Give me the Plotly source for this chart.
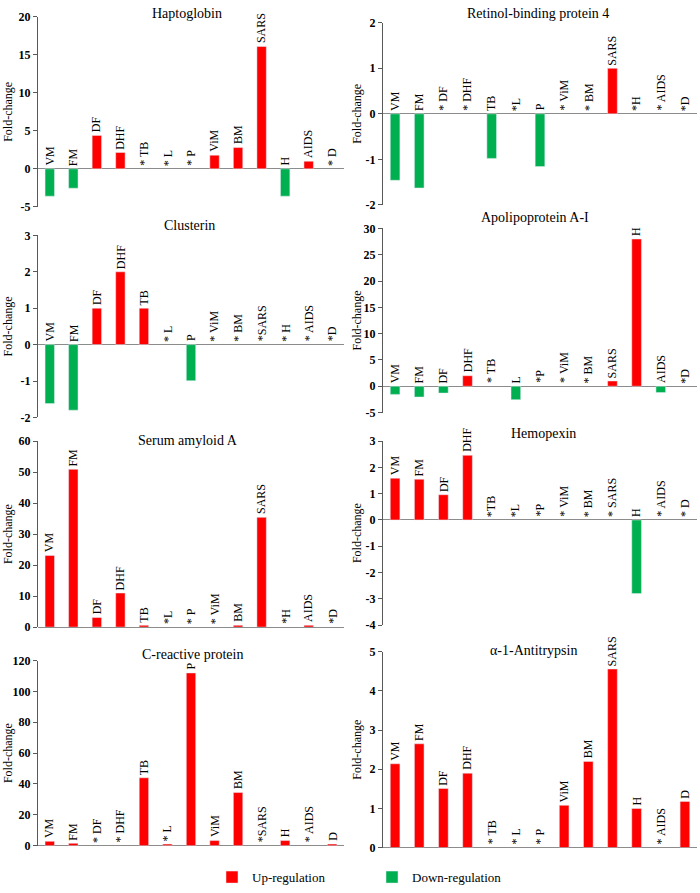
import plotly.graph_objects as go

categories = ["VM", "FM", "DF", "DHF", "TB", "L", "P", "ViM", "BM", "SARS", "H", "AIDS", "D"]

haptoglobin = [-3.6, -2.55, 4.4, 2.15, None, None, None, 1.8, 2.8, 16.1, -3.6, 1.0, None]
haptoglobin_labels = ["VM", "FM", "DF", "DHF", "* TB", "* L", "* P", "ViM", "BM", "SARS", "H", "AIDS", "* D"]

rbp4 = [-1.46, -1.63, None, None, -0.98, None, -1.16, None, None, 1.0, None, None, None]
rbp4_labels = ["VM", "FM", "* DF", "* DHF", "TB", "*L", "P", "* ViM", "* BM", "SARS", "*H", "* AIDS", "*D"]

clusterin = [-1.62, -1.8, 1.0, 2.0, 1.0, None, -0.99, None, None, None, None, None, None]
clusterin_labels = ["VM", "FM", "DF", "DHF", "TB", "* L", "P", "* ViM", "* BM", "*SARS", "* H", "* AIDS", "*D"]

apoa1 = [-1.55, -2.05, -1.3, 2.0, None, -2.55, None, None, None, 1.0, 28.0, -1.2, None]
apoa1_labels = ["VM", "FM", "DF", "DHF", "* TB", "L", "*P", "* ViM", "* BM", "SARS", "H", "AIDS", "*D"]

saa = [23.1, 50.9, 3.1, 11.0, 0.6, None, None, None, 0.6, 35.4, None, 0.6, None]
saa_labels = ["VM", "FM", "DF", "DHF", "TB", "*L", "* P", "* ViM", "BM", "SARS", "*H", "AIDS", "*D"]

hemopexin = [1.59, 1.55, 0.96, 2.46, None, None, None, None, None, None, -2.8, None, None]
hemopexin_labels = ["VM", "FM", "DF", "DHF", "*TB", "*L", "*P", "* ViM", "* BM", "* SARS", "H", "* AIDS", "* D"]

crp = [2.8, 1.5, None, None, 44.0, 1.0, 112.0, 3.3, 34.5, None, 3.3, None, 1.0]
crp_labels = ["VM", "FM", "* DF", "* DHF", "TB", "* L", "P", "ViM", "BM", "*SARS", "H", "* AIDS", "D"]

a1at = [2.14, 2.65, 1.51, 1.9, None, None, None, 1.08, 2.2, 4.56, 1.0, None, 1.18]
a1at_labels = ["VM", "FM", "DF", "DHF", "* TB", "* L", "* P", "ViM", "BM", "SARS", "H", "* AIDS", "D"]

titles = ["Haptoglobin", "Retinol-binding protein 4", "Clusterin", "Apolipoprotein A-I",
          "Serum amyloid A", "Hemopexin", "C-reactive protein", "\u03b1-1-Antitrypsin"]
values = [haptoglobin, rbp4, clusterin, apoa1, saa, hemopexin, crp, a1at]
labels = [haptoglobin_labels, rbp4_labels, clusterin_labels, apoa1_labels,
          saa_labels, hemopexin_labels, crp_labels, a1at_labels]
y_ranges = [(-5, 20, 5), (-2, 2, 1), (-2, 3, 1), (-5, 30, 5),
            (0, 60, 10), (-4, 3, 1), (0, 120, 20), (0, 5, 1)]

W, H = 700, 893
left_x = (38, 344)
right_x = (383, 697)
y_px = [(10, 203), (16, 201), (232, 417), (225, 412), (441, 630), (441, 628), (664, 852), (655, 854)]
title_px = [(187, 7), (538, 7), (190, 222), (535, 214), (188, 440), (543, 433), (192, 658), (533, 654)]
ytitle_x = [8, 357]

UP = "#FF0000"
DOWN = "#00B050"
AXC = "#595959"
SERIF = "Liberation Serif, Times New Roman, serif"

fig = go.Figure()
annotations = []
for i in range(8):
    n = i + 1
    xa = "x" if n == 1 else f"x{n}"
    ya = "y" if n == 1 else f"y{n}"
    vals = values[i]
    up = [v if (v is not None and v > 0) else None for v in vals]
    down = [v if (v is not None and v < 0) else None for v in vals]
    fig.add_trace(go.Bar(x=categories, y=up, marker_color=UP, name="Up-regulation",
                         legendgroup="up", showlegend=(n == 1), width=0.4,
                         xaxis=xa, yaxis=ya))
    fig.add_trace(go.Bar(x=categories, y=down, marker_color=DOWN, name="Down-regulation",
                         legendgroup="down", showlegend=(n == 1), width=0.4,
                         xaxis=xa, yaxis=ya))
    col = i % 2
    x0, x1 = left_x if col == 0 else right_x
    yt, yb = y_px[i]
    lo, hi, dt = y_ranges[i]
    tvals = list(range(lo, hi + dt, dt))
    ttext = [str(t) for t in tvals]
    xkey = "xaxis" if n == 1 else f"xaxis{n}"
    ykey = "yaxis" if n == 1 else f"yaxis{n}"
    fig.layout[xkey] = dict(domain=[x0 / W, x1 / W], range=[-0.5, 12.5], type="category",
                            showticklabels=False, showgrid=False, zeroline=False,
                            showline=False, ticks="", anchor=ya, fixedrange=True)
    fig.layout[ykey] = dict(domain=[1 - yb / H, 1 - yt / H], range=[lo, hi],
                            tickmode="array", tickvals=tvals, ticktext=ttext,
                            showline=True, linecolor=AXC, linewidth=1, ticks="outside",
                            ticklen=4, tickcolor=AXC, showgrid=False, zeroline=True,
                            zerolinecolor="#8C8C8C", zerolinewidth=1, anchor=xa,
                            tickfont=dict(family=SERIF, size=12, color="#000", weight="bold"))
    for j, c in enumerate(categories):
        v = vals[j]
        base = v if (v is not None and v > 0) else 0
        annotations.append(dict(x=c, y=base, xref=xa, yref=ya, text=labels[i][j],
                                textangle=-90, showarrow=False, xanchor="center",
                                yanchor="bottom", yshift=1,
                                font=dict(family=SERIF, size=12, color="#000")))
    tx, ty = title_px[i]
    annotations.append(dict(x=tx / W, y=1 - ty / H, xref="paper", yref="paper",
                            text=titles[i], showarrow=False, xanchor="center", yanchor="middle",
                            font=dict(family=SERIF, size=14, color="#000")))
    annotations.append(dict(x=ytitle_x[col] / W, y=1 - (yt + yb) / 2 / H, xref="paper", yref="paper",
                            text="Fold-change", textangle=-90, showarrow=False,
                            xanchor="center", yanchor="middle",
                            font=dict(family=SERIF, size=12, color="#000")))

fig.update_layout(
    width=W, height=H,
    margin=dict(l=0, r=0, t=0, b=0),
    plot_bgcolor="white", paper_bgcolor="white",
    barmode="relative",
    annotations=annotations,
    showlegend=True,
    legend=dict(orientation="h", x=212 / W, y=1 - 884 / H, xanchor="left", yanchor="middle",
                font=dict(family=SERIF, size=13, color="#000"), entrywidth=115,
                bgcolor="rgba(0,0,0,0)"),
)

fig.write_html("out.html", config={"displayModeBar": False},
               post_script="document.body.style.margin='0';document.body.style.padding='0';"
                           "document.documentElement.style.overflow='hidden';")
